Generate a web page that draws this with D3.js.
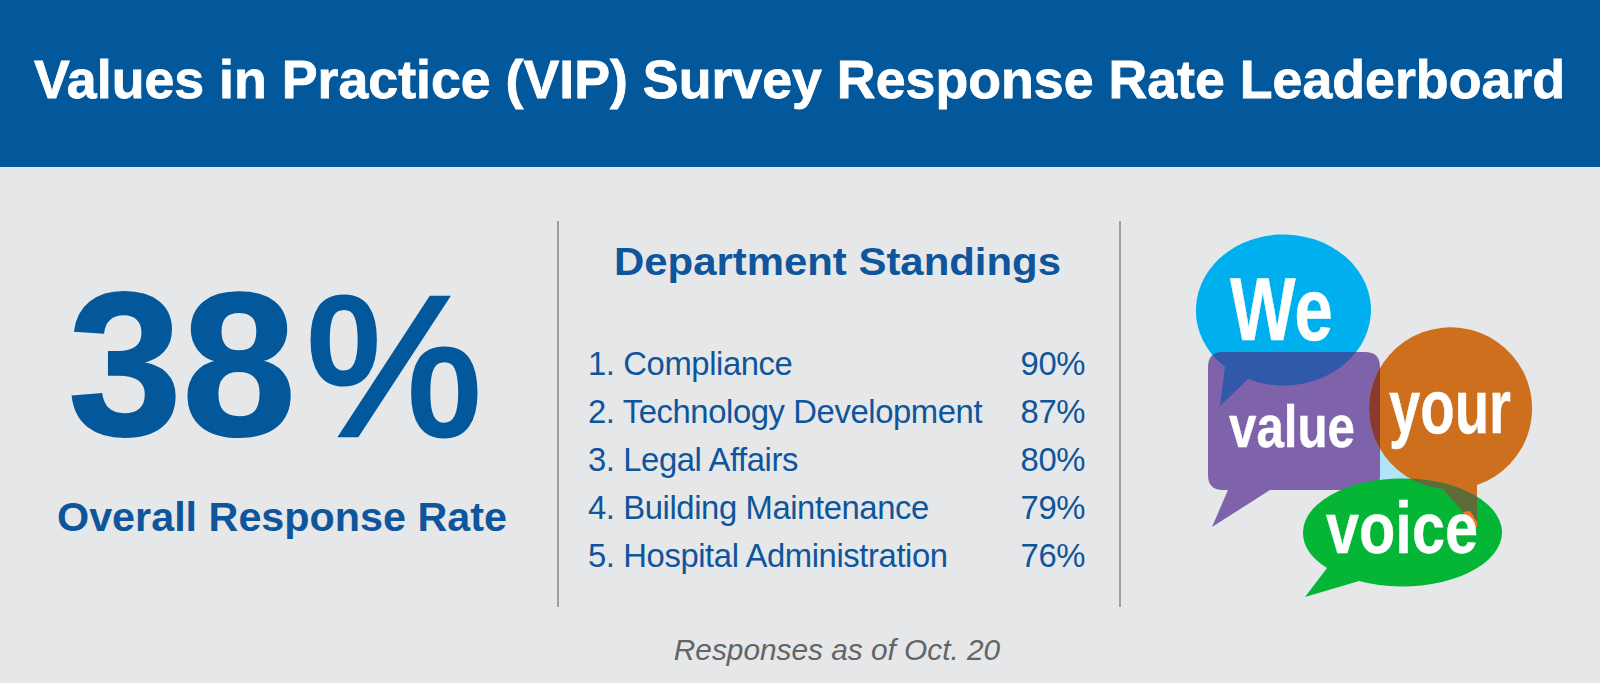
<!DOCTYPE html>
<html>
<head>
<meta charset="utf-8">
<script src="https://cdnjs.cloudflare.com/ajax/libs/d3/7.8.5/d3.min.js"></script>
<style>
html, body { margin: 0; padding: 0; background: #fff; }
text { font-family: "Liberation Sans", Arial, sans-serif; }
</style>
</head>
<body>
<div class="container"></div>
<script>
const title = 'Values in Practice (VIP) Survey Response Rate Leaderboard';
const overallRate = 38;
const overallLabel = 'Overall Response Rate';
const standingsTitle = 'Department Standings';
const departments = ['1. Compliance', '2. Technology Development', '3. Legal Affairs', '4. Building Maintenance', '5. Hospital Administration'];
const rates = [90, 87, 80, 79, 76];
const footnote = 'Responses as of Oct. 20';

const width = 1600;
const height = 683;
const blue = '#03589b';
const textBlue = '#0f559b';

const svg = d3.select('.container')
  .append('svg')
  .attr('width', width)
  .attr('height', height)
  .style('display', 'block');

svg.append('rect').attr('width', width).attr('height', height).attr('fill', '#e6e7e9');
svg.append('rect').attr('width', width).attr('height', 167).attr('fill', blue);

svg.append('text')
  .attr('x', 34).attr('y', 98)
  .attr('textLength', 1531)
  .attr('lengthAdjust', 'spacingAndGlyphs')
  .attr('font-size', 54)
  .attr('font-weight', 700)
  .attr('fill', '#fff')
  .attr('stroke', '#fff')
  .attr('stroke-width', 0.8)
  .text(title);

// left panel
const big = svg.append('text')
  .attr('x', 68).attr('y', 435)
  .attr('font-size', 205)
  .attr('fill', blue);
big.append('tspan').attr('font-weight', 700).attr('stroke', blue).attr('stroke-width', 2).text(overallRate);
big.append('tspan').attr('dx', 10).attr('font-size', 198).attr('stroke', blue).attr('stroke-width', 5).text('%');

svg.append('text')
  .attr('x', 57).attr('y', 531)
  .attr('textLength', 450)
  .attr('lengthAdjust', 'spacingAndGlyphs')
  .attr('font-size', 40)
  .attr('font-weight', 700)
  .attr('fill', textBlue)
  .text(overallLabel);

// dividers
svg.selectAll('line.divider')
  .data([558, 1120])
  .enter()
  .append('line')
  .attr('class', 'divider')
  .attr('x1', d => d).attr('x2', d => d)
  .attr('y1', 221).attr('y2', 607)
  .attr('stroke', '#77787b')
  .attr('stroke-width', 1.3);

// standings
svg.append('text')
  .attr('x', 614).attr('y', 275)
  .attr('textLength', 447)
  .attr('lengthAdjust', 'spacingAndGlyphs')
  .attr('font-size', 39.5)
  .attr('font-weight', 700)
  .attr('fill', textBlue)
  .text(standingsTitle);

const yScale = d3.scalePoint()
  .domain(departments)
  .range([375, 567]);

svg.selectAll('text.dept')
  .data(departments)
  .enter()
  .append('text')
  .attr('class', 'dept')
  .attr('x', 588)
  .attr('y', d => yScale(d))
  .attr('font-size', 32.8)
  .attr('letter-spacing', -0.4)
  .attr('fill', textBlue)
  .text(d => d);

svg.selectAll('text.rate')
  .data(rates)
  .enter()
  .append('text')
  .attr('class', 'rate')
  .attr('x', 1085)
  .attr('y', (d, i) => yScale(departments[i]))
  .attr('text-anchor', 'end')
  .attr('font-size', 32.8)
  .attr('letter-spacing', -0.4)
  .attr('fill', textBlue)
  .text(d => d + '%');

svg.append('text')
  .attr('x', 837).attr('y', 660)
  .attr('text-anchor', 'middle')
  .attr('font-size', 29.8)
  .attr('font-style', 'italic')
  .attr('fill', '#636466')
  .text(footnote);

// speech bubbles
const defs = svg.append('defs');
const bubbles = svg.append('g');
const wePath = 'M1196,308 A87.5,75.5 0 1 1 1248,379 L1220,406 L1225,367 A87.5,75.5 0 0 1 1196,308 Z';
const valuePath = 'M1223,352 H1365 Q1380,352 1380,367 V475 Q1380,490 1365,490 H1270 L1212,527 L1228,490 H1223 Q1208,490 1208,475 V367 Q1208,352 1223,352 Z';
const yourPath = 'M1443,489 A81.5,81 0 1 1 1477,485 V528 Z';
const voicePath = 'M1303,532 A99.5,54 0 1 1 1359,581 L1305,597 L1327,568 A99.5,54 0 0 1 1303,532 Z';

[['clip-we', wePath], ['clip-value', valuePath], ['clip-your', yourPath], ['clip-voice', voicePath]].forEach(([id, p]) => {
  defs.append('clipPath').attr('id', id).append('path').attr('d', p);
});

bubbles.append('rect').attr('x', 1378).attr('y', 440).attr('width', 34).attr('height', 46).attr('fill', '#b0e4fb');
bubbles.append('path').attr('d', wePath).attr('fill', '#00b0ee');
bubbles.append('path').attr('d', valuePath).attr('fill', '#7f63aa');
bubbles.append('path').attr('d', wePath).attr('fill', '#3059a9').attr('clip-path', 'url(#clip-value)');
bubbles.append('path').attr('d', yourPath).attr('fill', '#cd6f1c');
bubbles.append('path').attr('d', valuePath).attr('fill', '#8b3a2e').attr('clip-path', 'url(#clip-your)');
bubbles.append('path').attr('d', voicePath).attr('fill', '#05b636');
bubbles.append('path').attr('d', yourPath).attr('fill', '#5f6b39').attr('clip-path', 'url(#clip-voice)');
bubbles.append('path').attr('d', 'M1463,512 L1470,511 L1477,522 V528 Z').attr('fill', '#f47a20');

const bubbleWords = ['We', 'value', 'your', 'voice'];
const wordX = [1230, 1229, 1389, 1326];
const wordY = [340, 447, 433, 553];
const wordWidth = [103, 126, 122, 152];
const wordSize = [89, 60, 76, 73];

bubbles.selectAll('text')
  .data(bubbleWords)
  .enter()
  .append('text')
  .attr('x', (d, i) => wordX[i])
  .attr('y', (d, i) => wordY[i])
  .attr('textLength', (d, i) => wordWidth[i])
  .attr('lengthAdjust', 'spacingAndGlyphs')
  .attr('font-size', (d, i) => wordSize[i])
  .attr('font-weight', 700)
  .attr('fill', '#fff')
  .attr('stroke', '#fff')
  .attr('stroke-width', 0.4)
  .text(d => d);
</script>
</body>
</html>
